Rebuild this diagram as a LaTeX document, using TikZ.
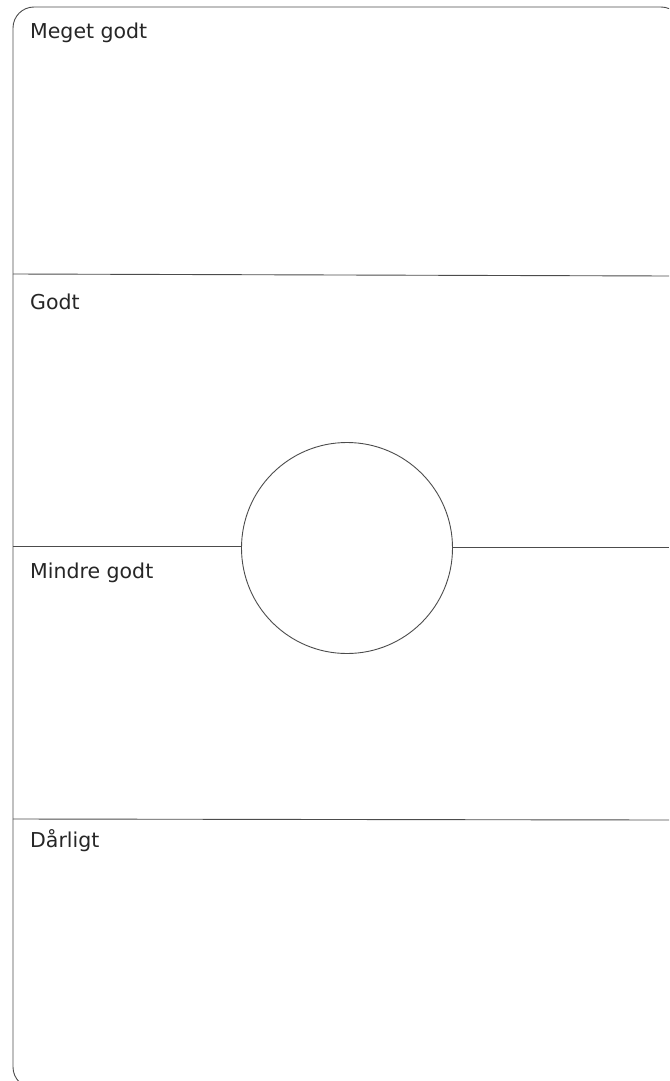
\documentclass[tikz,border=0pt]{standalone}
\usepackage{fontspec}
\setmainfont{DejaVu Sans}
\usetikzlibrary{positioning}

\begin{document}
\begin{tikzpicture}[
    x=1pt, y=-1pt,
    rule/.style={draw=black!70, line width=0.9pt},
    label/.style={anchor=base west, inner sep=0pt, text=black!85, font=\fontsize{20.5}{24}\selectfont}
]
\useasboundingbox (0,0) rectangle (669,1081);

% Frame
\begin{scope}
\clip (0,0) rectangle (669,1081);
\draw[rule, rounded corners=21pt] (13,7) rectangle (682,1088);
\end{scope}

% Rows
\coordinate (l1) at (13,274);
\coordinate (r1) at (669,276);
\coordinate (l2) at (13,546);
\coordinate (r2) at (669,547);
\coordinate (l3) at (13,819);
\coordinate (r3) at (669,820);

\node[circle, rule, minimum size=211pt, inner sep=0pt] (dial) at (347,548) {};

\draw[rule] (l1) -- (r1);
\draw[rule] (l2) -- (dial.west |- l2);
\draw[rule] (dial.east |- r2) -- (r2);
\draw[rule] (l3) -- (r3);

% Labels
\node[label] (vgood) at (30,38) {Meget godt};
\node[label] (good) at (30,309) {Godt};
\node[label] (less) at (30,578) {Mindre godt};
\node[label] (bad) at (30,847) {Dårligt};

\end{tikzpicture}
\end{document}
